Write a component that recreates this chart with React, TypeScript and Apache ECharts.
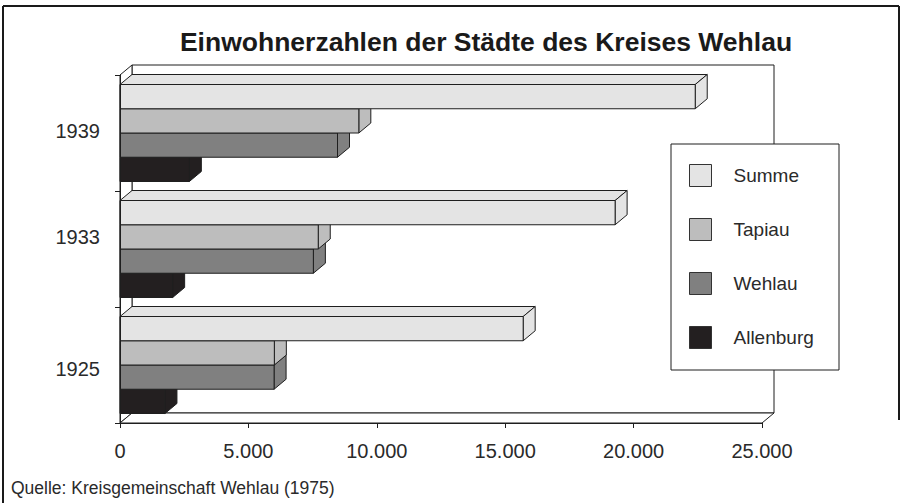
import React, { useEffect, useRef } from 'react';
import * as echarts from 'echarts';

const categories = ['1925', '1933', '1939'];
const allenburg = [1750, 2050, 2700];
const wehlau = [6000, 7530, 8470];
const tapiau = [6010, 7720, 9300];
const summe = [15700, 19280, 22400];
const legendOrder = ['Summe', 'Tapiau', 'Wehlau', 'Allenburg'];
const xTicks = [0, 5000, 10000, 15000, 20000, 25000];
const xTickLabels = ['0', '5.000', '10.000', '15.000', '20.000', '25.000'];
const titleText = 'Einwohnerzahlen der Städte des Kreises Wehlau';
const sourceText = 'Quelle: Kreisgemeinschaft Wehlau (1975)';

const FONT = '"Liberation Sans", Arial, Helvetica, sans-serif';
const DX = 12;
const DY = 10;
const GROUP = 0.836;
const STROKE = '#1e1e1e';
const TEXT = '#2a2a2a';

// series drawn bottom slot first so upper bars overlap lower ones
const seriesDefs = [
  { name: 'Allenburg', data: allenburg, color: '#231f20', slot: 3 },
  { name: 'Wehlau', data: wehlau, color: '#808080', slot: 2 },
  { name: 'Tapiau', data: tapiau, color: '#bdbdbd', slot: 1 },
  { name: 'Summe', data: summe, color: '#e4e4e4', slot: 0 },
];

const makeBarRender = (slot: number, color: string) => (params: any, api: any) => {
  const cat = api.value(1);
  const v = api.value(0);
  const [xv, yc] = api.coord([v, cat]);
  const [x0] = api.coord([0, cat]);
  const band = api.size([0, 1])[1];
  const barH = (band * GROUP) / 4;
  const yt = yc - (band * GROUP) / 2 + slot * barH;
  const yb = yt + barH;
  const style = { fill: color, stroke: STROKE, lineWidth: 1 };
  return {
    type: 'group',
    children: [
      { type: 'polygon', shape: { points: [[x0, yt], [xv, yt], [xv + DX, yt - DY], [x0 + DX, yt - DY]] }, style },
      { type: 'polygon', shape: { points: [[xv, yt], [xv + DX, yt - DY], [xv + DX, yb - DY], [xv, yb]] }, style },
      { type: 'rect', shape: { x: x0, y: yt, width: xv - x0, height: barH }, style },
    ],
  };
};

const frameRender = (params: any) => {
  const { x, y, width: w, height: h } = params.coordSys;
  const style = { fill: '#ffffff', stroke: STROKE, lineWidth: 1 };
  return {
    type: 'group',
    children: [
      { type: 'rect', shape: { x: x + DX, y: y - DY, width: w, height: h }, style },
      { type: 'polygon', shape: { points: [[x, y], [x + DX, y - DY], [x + DX, y + h - DY], [x, y + h]] }, style },
      { type: 'polygon', shape: { points: [[x, y + h], [x + DX, y + h - DY], [x + w + DX, y + h - DY], [x + w, y + h]] }, style },
    ],
  };
};

const yLabelRich: Record<string, any> = {
  c0: { padding: [8, 0, 0, 0], fontSize: 20, fontFamily: FONT, color: TEXT },
  c1: { padding: [0, 0, 24, 0], fontSize: 20, fontFamily: FONT, color: TEXT },
  c2: { padding: [0, 0, 4, 0], fontSize: 20, fontFamily: FONT, color: TEXT },
};

export default function App() {
  const ref = useRef<HTMLDivElement>(null);
  useEffect(() => {
    document.body.style.margin = '0';
    const chart = echarts.init(ref.current!, null, { renderer: 'svg' });
    const option: any = {
      animation: false,
      backgroundColor: '#ffffff',
      title: {
        text: titleText,
        left: 486,
        top: 28,
        textAlign: 'center',
        padding: 0,
        textStyle: { fontSize: 26.5, fontWeight: 'bold', fontFamily: FONT, color: '#1a1a1a' },
      },
      grid: { left: 120, right: 140, top: 75, bottom: 80 },
      xAxis: {
        type: 'value',
        min: 0,
        max: 25000,
        interval: 5000,
        z: 5,
        splitLine: { show: false },
        axisLine: { show: true, lineStyle: { color: STROKE, width: 1 } },
        axisTick: { show: true, length: 5, lineStyle: { color: STROKE } },
        axisLabel: {
          margin: 18,
          fontSize: 20,
          fontFamily: FONT,
          color: TEXT,
          formatter: (v: number) => {
            const i = xTicks.indexOf(v);
            return i >= 0 ? xTickLabels[i] : '';
          },
        },
      },
      yAxis: {
        type: 'category',
        data: categories,
        z: 5,
        axisLine: { show: true, lineStyle: { color: STROKE, width: 1 } },
        axisTick: { show: true, length: 5, lineStyle: { color: STROKE } },
        axisLabel: {
          margin: 20,
          fontSize: 20,
          fontFamily: FONT,
          color: TEXT,
          formatter: (v: string) => `{c${categories.indexOf(v)}|${v}}`,
          rich: yLabelRich,
        },
      },
      legend: {
        data: legendOrder,
        orient: 'vertical',
        left: 689,
        top: 164,
        padding: 0,
        itemWidth: 22,
        itemHeight: 22,
        itemGap: 31,
        z: 10,
        icon: 'rect',
        itemStyle: { borderColor: '#333', borderWidth: 1 },
        textStyle: { fontSize: 19, fontFamily: FONT, color: TEXT, padding: [0, 0, 0, 17] },
      },
      graphic: [
        { type: 'rect', z: 8, shape: { x: 671, y: 144, width: 168, height: 226 }, style: { fill: '#fff', stroke: STROKE, lineWidth: 1 } },
        { type: 'text', z: 8, x: 11, y: 488, style: { text: sourceText, fontSize: 17.5, fontFamily: FONT, fill: TEXT, verticalAlign: 'middle' } },
        { type: 'line', z: 8, shape: { x1: 3, y1: 6, x2: 899, y2: 6 }, style: { stroke: '#1a1a1a', lineWidth: 2 } },
        { type: 'line', z: 8, shape: { x1: 3, y1: 6, x2: 3, y2: 503 }, style: { stroke: '#1a1a1a', lineWidth: 2 } },
        { type: 'line', z: 8, shape: { x1: 899, y1: 6, x2: 899, y2: 420 }, style: { stroke: '#1a1a1a', lineWidth: 2 } },
      ],
      series: [
        {
          type: 'custom',
          name: 'frame',
          silent: true,
          z: 1,
          data: [[0, 0]],
          encode: { x: 0, y: 1 },
          renderItem: frameRender,
        },
        ...seriesDefs.map((s) => ({
          type: 'custom',
          name: s.name,
          z: 2,
          itemStyle: { color: s.color, borderColor: '#333', borderWidth: 1 },
          encode: { x: 0, y: 1 },
          data: s.data.map((v, i) => [v, i]),
          renderItem: makeBarRender(s.slot, s.color),
        })),
      ],
    };
    chart.setOption(option);
    return () => chart.dispose();
  }, []);
  return <div ref={ref} style={{ position: 'fixed', left: 0, top: 0, width: 902, height: 503 }} />;
}
